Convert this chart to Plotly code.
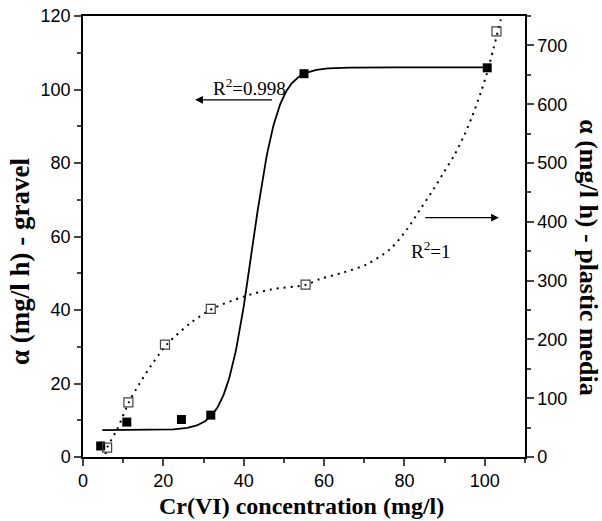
import numpy as np
import plotly.graph_objects as go

# ---- data ----
gravel_x = [4.4, 10.9, 24.5, 31.8, 55.0, 100.6]
gravel_y = [3.0, 9.5, 10.2, 11.4, 104.3, 105.9]          # left axis (mg/l h)
plastic_x = [6.0, 11.3, 20.4, 31.8, 55.4, 102.9]
plastic_y = [16, 93, 191, 252, 293, 724]                 # right axis (mg/l h)

# Boltzmann fit of gravel data (R^2 = 0.998)
boltz_A1, boltz_A2, boltz_x0, boltz_dx = 7.3, 106.0, 42.1, 3.2
gravel_fit_span = [4.8, 100.6]

# dotted fit curve of plastic-media data (R^2 = 1)
plastic_curve_x = [5.6, 6.0, 8.5, 11.4, 13.9, 16.9, 20.8, 26.8, 32.2, 40.1, 46.8,
                   55.5, 59.1, 64.9, 70.7, 76.5, 80.7, 84.0, 87.3, 89.8, 92.3,
                   94.8, 96.9, 99.0, 100.6, 102.1, 104.0]
plastic_curve_y = [5, 16, 47, 93, 123, 155, 191, 228, 252, 273, 285,
                   293, 303, 314, 328, 354, 388, 422, 456, 484, 512,
                   546, 580, 620, 654, 693, 744]

x_ticks = [0, 20, 40, 60, 80, 100]
y_ticks = [0, 20, 40, 60, 80, 100, 120]
y2_ticks = [0, 100, 200, 300, 400, 500, 600, 700]

# ---- gravel fitted curve ----
gx = np.linspace(gravel_fit_span[0], gravel_fit_span[1], 400)
gy = boltz_A2 + (boltz_A1 - boltz_A2) / (1 + np.exp((gx - boltz_x0) / boltz_dx))

fig = go.Figure()
fig.add_trace(go.Scatter(x=gx, y=gy, mode="lines",
                         line=dict(color="black", width=1.8), showlegend=False))
fig.add_trace(go.Scatter(x=plastic_curve_x, y=plastic_curve_y, yaxis="y2", mode="lines",
                         line=dict(color="black", width=2, dash="2px,5px",
                                   shape="spline", smoothing=0.8),
                         showlegend=False))
fig.add_trace(go.Scatter(x=gravel_x, y=gravel_y, mode="markers",
                         marker=dict(symbol="square", size=9, color="black"), showlegend=False))
fig.add_trace(go.Scatter(x=plastic_x, y=plastic_y, yaxis="y2", mode="markers",
                         marker=dict(symbol="square-open", size=9, color="#444",
                                     line=dict(width=1.2, color="#444")), showlegend=False))

tickfont = dict(family="Liberation Sans, Arial", size=18, color="black")
serif = "Liberation Serif, Times New Roman"

fig.update_layout(
    width=602, height=521,
    margin=dict(l=83, r=77, t=16, b=64),
    paper_bgcolor="white", plot_bgcolor="white",
    xaxis=dict(range=[0, 110], tickvals=x_ticks, ticks="outside", ticklen=7, tickwidth=1.5,
               showline=True, linewidth=1.5, linecolor="black", mirror=True,
               showgrid=False, zeroline=False, tickfont=tickfont, automargin=False,
               minor=dict(dtick=10, ticks="outside", ticklen=4, tickwidth=1.5, showgrid=False)),
    yaxis=dict(range=[0, 120], tickvals=y_ticks, ticks="outside", ticklen=7, tickwidth=1.5,
               showline=True, linewidth=1.5, linecolor="black",
               showgrid=False, zeroline=False, tickfont=tickfont, automargin=False,
               minor=dict(dtick=10, ticks="outside", ticklen=4, tickwidth=1.5, showgrid=False)),
    yaxis2=dict(range=[0, 750], tickvals=y2_ticks, overlaying="y", side="right",
                ticks="outside", ticklen=7, tickwidth=1.5,
                showline=True, linewidth=1.5, linecolor="black",
                showgrid=False, zeroline=False, tickfont=tickfont, automargin=False,
                minor=dict(dtick=50, ticks="outside", ticklen=4, tickwidth=1.5, showgrid=False)),
    annotations=[
        dict(text="<b>Cr(VI) concentration (mg/l)</b>", xref="paper", yref="paper",
             x=0.495, y=-0.11, xanchor="center", yanchor="middle", showarrow=False,
             font=dict(family=serif, size=24, color="black")),
        dict(text="<b>α (mg/l h) - gravel</b>", xref="paper", yref="paper",
             x=-0.143, y=0.444, xanchor="center", yanchor="middle", showarrow=False,
             textangle=-90, font=dict(family=serif, size=27, color="black")),
        dict(text="<b>α (mg/l h) - plastic media</b>", xref="paper", yref="paper",
             x=1.145, y=0.453, xanchor="center", yanchor="middle", showarrow=False,
             textangle=90, font=dict(family=serif, size=26, color="black")),
        dict(text="R<sup>2</sup>=0.998", xref="x", yref="y", x=41.5, y=100.8,
             showarrow=False, xanchor="center", yanchor="middle",
             font=dict(family=serif, size=19, color="black")),
        dict(text="R<sup>2</sup>=1", xref="x", yref="y2", x=86.5, y=352,
             showarrow=False, xanchor="center", yanchor="middle",
             font=dict(family=serif, size=19, color="black")),
        dict(text="", xref="x", yref="y", x=27.9, y=97.2, axref="x", ayref="y",
             ax=47.4, ay=97.2, showarrow=True, arrowhead=2, arrowsize=1.2,
             arrowwidth=1.3, arrowcolor="black"),
        dict(text="", xref="x", yref="y2", x=103.5, y=407, axref="x", ayref="y2",
             ax=84.8, ay=407, showarrow=True, arrowhead=2, arrowsize=1.2,
             arrowwidth=1.3, arrowcolor="black"),
    ],
)

fig.write_html("out.html", config={"displayModeBar": False},
               post_script="document.body.style.margin='0';document.body.style.padding='0';")
